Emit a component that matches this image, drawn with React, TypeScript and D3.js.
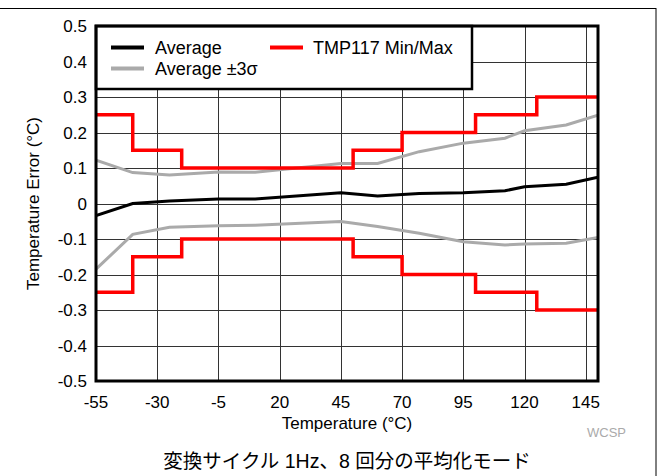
import * as d3 from "d3";

// sample temperatures (°C) and measured error (°C)
const temps = [-55, -40, -25, -5, 10, 45, 60, 77, 95, 112, 120, 137, 150];
const average = [-0.034, 0.0, 0.007, 0.013, 0.013, 0.03, 0.021, 0.028, 0.03, 0.036, 0.047, 0.054, 0.074];
const upper3s = [0.122, 0.087, 0.08, 0.089, 0.088, 0.113, 0.113, 0.146, 0.17, 0.184, 0.205, 0.221, 0.249];
const lower3s = [-0.185, -0.087, -0.067, -0.063, -0.061, -0.051, -0.065, -0.084, -0.108, -0.117, -0.114, -0.112, -0.096];

// TMP117 spec limits (step function)
const limitTemps = [-55, -40, -20, 50, 70, 100, 125, 150];
const limitMax = [0.25, 0.15, 0.1, 0.15, 0.2, 0.25, 0.3, 0.3];
const limitMin = [-0.25, -0.15, -0.1, -0.15, -0.2, -0.25, -0.3, -0.3];

const xTicks = [-55, -30, -5, 20, 45, 70, 95, 120, 145];
const yTicks = [-0.5, -0.4, -0.3, -0.2, -0.1, 0, 0.1, 0.2, 0.3, 0.4, 0.5];

const W = 658;
const H = 476;
const margin = { left: 96, top: 26, right: 60, bottom: 95 };
const font = "'Liberation Sans', Arial, sans-serif";

export default function App() {
  const x = d3.scaleLinear().domain([-55, 150]).range([margin.left, W - margin.right]);
  const y = d3.scaleLinear().domain([-0.5, 0.5]).range([H - margin.bottom, margin.top]);

  const line = d3
    .line<[number, number]>()
    .x((d) => x(d[0]))
    .y((d) => y(d[1]));
  const step = d3
    .line<[number, number]>()
    .x((d) => x(d[0]))
    .y((d) => y(d[1]))
    .curve(d3.curveStepAfter);

  const pts = (xs: number[], ys: number[]) => xs.map((t, i) => [t, ys[i]] as [number, number]);

  const [x0, x1] = x.range();
  const [y0, y1] = y.range(); // y0 bottom, y1 top

  // legend box
  const lg = { x: x0, y: y1, w: 376, h: 63 };

  return (
    <svg width={W} height={H} style={{ position: "absolute", left: 0, top: 0, background: "#fff" }}>
      {/* outer frame */}
      <rect x={-2} y={8.5} width={658} height={480} fill="none" stroke="#000" strokeWidth={1} />

      {/* grid */}
      <g stroke="#333" strokeWidth={1}>
        {xTicks.map((t) => (
          <line key={"gx" + t} x1={Math.round(x(t)) + 0.5} x2={Math.round(x(t)) + 0.5} y1={y1} y2={y0} />
        ))}
        {yTicks.map((t) => (
          <line key={"gy" + t} x1={x0} x2={x1} y1={Math.round(y(t)) + 0.5} y2={Math.round(y(t)) + 0.5} />
        ))}
      </g>

      <defs>
        <clipPath id="plot">
          <rect x={x0} y={y1} width={x1 - x0} height={y0 - y1} />
        </clipPath>
      </defs>

      <g clipPath="url(#plot)" fill="none" strokeLinejoin="miter">
        <path d={line(pts(temps, upper3s)) || ""} stroke="#aaaaaa" strokeWidth={3} />
        <path d={line(pts(temps, lower3s)) || ""} stroke="#aaaaaa" strokeWidth={3} />
        <path d={step(pts(limitTemps, limitMax)) || ""} stroke="#ff0000" strokeWidth={3.5} />
        <path d={step(pts(limitTemps, limitMin)) || ""} stroke="#ff0000" strokeWidth={3.5} />
        <path d={line(pts(temps, average)) || ""} stroke="#000" strokeWidth={3} />
      </g>

      {/* legend */}
      <rect x={lg.x} y={lg.y} width={lg.w} height={lg.h} fill="#fff" stroke="#000" strokeWidth={2.5} />
      <g fontFamily={font} fontSize={18} fill="#000">
        <line x1={111} x2={144} y1={47.5} y2={47.5} stroke="#000" strokeWidth={4} />
        <text x={155} y={54}>Average</text>
        <line x1={111} x2={144} y1={68.5} y2={68.5} stroke="#aaaaaa" strokeWidth={4} />
        <text x={155} y={75}>Average ±3σ</text>
        <line x1={270} x2={303} y1={47.5} y2={47.5} stroke="#ff0000" strokeWidth={4} />
        <text x={313} y={54}>TMP117 Min/Max</text>
      </g>

      {/* plot border */}
      <rect x={x0} y={y1} width={x1 - x0} height={y0 - y1} fill="none" stroke="#000" strokeWidth={3} />

      {/* tick labels */}
      <g fontFamily={font} fontSize={17} fill="#000">
        {yTicks.map((t) => (
          <text key={"ly" + t} x={87} y={y(t)} dy="0.36em" textAnchor="end">
            {t === 0 ? "0" : t.toFixed(1)}
          </text>
        ))}
        {xTicks.map((t) => (
          <text key={"lx" + t} x={x(t)} y={407.5} textAnchor="middle">
            {String(t)}
          </text>
        ))}
        <text x={347} y={429} textAnchor="middle">Temperature (°C)</text>
        <text transform={`translate(39,${(y0 + y1) / 2}) rotate(-90)`} textAnchor="middle">
          Temperature Error (°C)
        </text>
      </g>

      <text x={587} y={437} fontFamily={font} fontSize={13} fill="#aaaaaa">WCSP</text>

      <text x={347} y={468} textAnchor="middle" fontFamily={`${font}, 'Noto Sans CJK JP'`} fontSize={19.5} fill="#000">
        変換サイクル 1Hz、8 回分の平均化モード
      </text>
    </svg>
  );
}
